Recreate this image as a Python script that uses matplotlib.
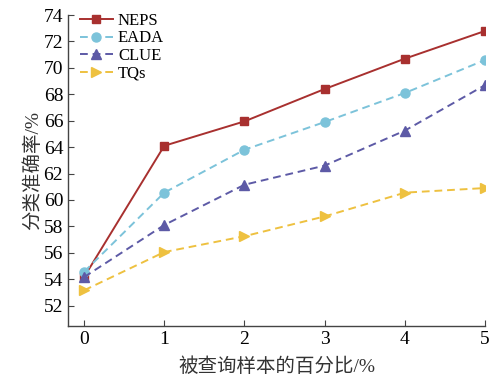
import matplotlib
matplotlib.use('Agg')
import matplotlib.pyplot as plt

plt.rcParams['font.family'] = ['Liberation Serif', 'Noto Sans CJK SC']

# data
x = [0, 1, 2, 3, 4, 5]
neps = [54.15, 64.1, 65.95, 68.4, 70.7, 72.8]
eada = [54.55, 60.55, 63.8, 65.9, 68.1, 70.6]
clue = [54.15, 58.1, 61.15, 62.6, 65.25, 68.7]
tqs = [53.15, 56.05, 57.25, 58.75, 60.55, 60.9]

fig = plt.figure(figsize=(4.91, 3.81), dpi=100)
ax = fig.add_axes([0.1385, 0.1444, 0.8495, 0.816])

ax.plot(x, neps, '-', color='#a8302f', marker='s', ms=6, lw=1.4, label='NEPS')
ax.plot(x, eada, '--', color='#7cc3da', marker='o', ms=6.5, lw=1.4, label='EADA', dashes=(4, 2.5))
ax.plot(x, clue, '--', color='#5d5aa6', marker='^', ms=6.5, lw=1.4, label='CLUE', dashes=(4, 2.5))
ax.plot(x, tqs, '--', color='#eec140', marker='>', ms=6.5, lw=1.4, label='TQs', dashes=(4, 2.5))

ax.set_xlim(-0.2, 5.0)
ax.set_ylim(50.45, 74)
ax.set_xticks(x)
ax.set_yticks(range(52, 75, 2))
ax.spines['top'].set_visible(False)
ax.spines['right'].set_visible(False)
for s in ['left', 'bottom']:
    ax.spines[s].set_color('#444444')
    ax.spines[s].set_linewidth(1.0)
ax.tick_params(direction='in', labelsize=14, length=4, color='#444444')

ax.set_xlabel('被查询样本的百分比/%', fontsize=14, labelpad=7, color='#333333')
ax.set_ylabel('分类准确率/%', fontsize=14, labelpad=1, color='#333333')

ax.legend(loc='upper left', bbox_to_anchor=(0.0, 1.045), frameon=False, fontsize=12,
          handlelength=2.0, handletextpad=0.3, labelspacing=0.1, borderaxespad=0.3)

fig.savefig('out.png', dpi=100)
